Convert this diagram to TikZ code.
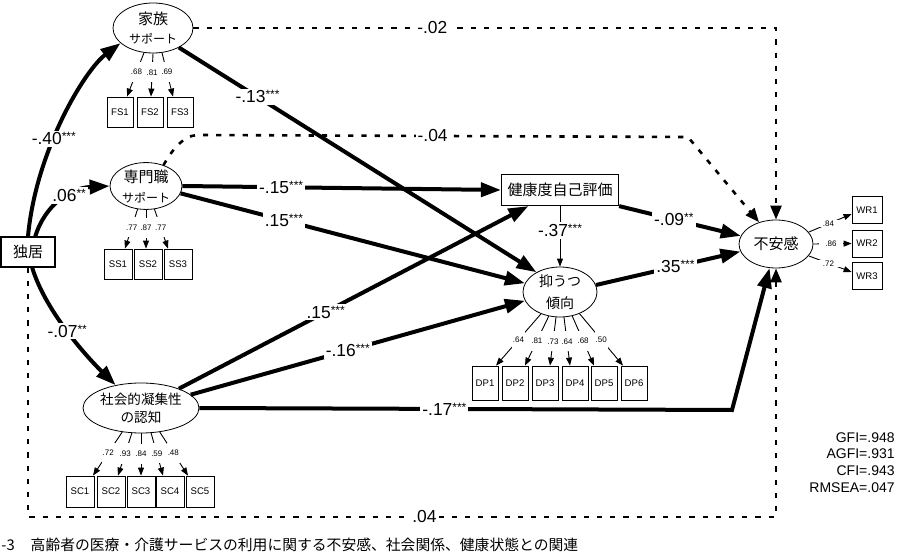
\documentclass[tikz,border=0pt]{standalone}
\usepackage{fontspec}
\setmainfont{Liberation Sans}
\newfontfamily\jp{Noto Sans CJK JP}
\usepackage{tikz}
\usetikzlibrary{arrows.meta,calc,shapes.geometric}
\newcommand{\fsz}[1]{\fontsize{#1}{#1}\selectfont}
\newcommand{\sig}[1]{\raisebox{2pt}{\fsz{6}#1}}

\begin{document}
\begin{tikzpicture}[x=0.5pt,y=-0.5pt,
  lat/.style={draw,ellipse,line width=0.4pt,inner sep=0pt,align=center},
  obs/.style={draw,line width=0.6pt,inner sep=0pt,font=\jp\fsz{7.5}},
  ind/.style={draw,line width=0.4pt,inner sep=0pt,font=\fsz{4.8}},
  eff/.style={line width=2pt,-{Triangle[length=10pt,width=7pt]}},
  nse/.style={line width=1.3pt,dash pattern=on 2.6pt off 4pt,-{Triangle[length=7pt,width=5.5pt]}},
  thinarr/.style={line width=0.45pt,-{Triangle[length=4pt,width=3pt]}},
  coef/.style={fill=white,inner sep=1pt,font=\fsz{8.7}},
  ldg/.style={fill=white,inner xsep=0.4pt,inner ysep=3.6pt,font=\fsz{4}},
  ldgh/.style={fill=white,inner xsep=3pt,inner ysep=0.3pt,font=\fsz{4}}]
  \useasboundingbox (0,0) rectangle (904,555);
  \node[obs,minimum width=27pt,minimum height=15pt] (dk) at (28,252) {独居};
  \node[lat,minimum width=40pt,minimum height=25pt,font=\jp\fsz{7.5}] (fam) at (153,28) {家族\\[2pt]{\fsz{6}サポート}};
  \node[lat,minimum width=36pt,minimum height=23pt,font=\jp\fsz{7.5}] (pro) at (146,186) {専門職\\[2.5pt]{\fsz{6}サポート}};
  \node[lat,minimum width=58pt,minimum height=25pt,font=\jp\fsz{6.8}] (soc) at (141,408) {社会的凝集性\\[2.2pt]の認知};
  \node[obs,minimum width=58.5pt,minimum height=15.5pt] (hlt) at (560,190) {健康度自己評価};
  \node[lat,minimum width=37pt,minimum height=25pt,font=\jp\fsz{7}] (dep) at (560,292) {抑うつ\\[4pt]傾向};
  \node[lat,minimum width=37pt,minimum height=24pt,font=\jp\fsz{7.5}] (anx) at (776,244) {不安感};

  % indicators
  \foreach \n/\x in {FS1/120,FS2/150,FS3/180}
    \node[ind,minimum width=13pt,minimum height=15pt] (\n) at (\x,112) {\n};
  \foreach \n/\a/\t/\v in {FS1/250/127/.68,FS2/270/151/.81,FS3/290/173/.69}
    \draw[thinarr] (fam.\a) -- node[ldg,pos=.44] (v\n) {\v} (\n.north -| \t,0);
  \foreach \n/\x in {SS1/118,SS2/148,SS3/178}
    \node[ind,minimum width=14pt,minimum height=15pt] (\n) at (\x,264) {\n};
  \foreach \n/\a/\t/\v in {SS1/250/125/.77,SS2/270/146/.87,SS3/290/168/.77}
    \draw[thinarr] (pro.\a) -- node[ldg,pos=.46] (v\n) {\v} (\n.north -| \t,0);
  \foreach \n/\x in {SC1/80,SC2/111,SC3/141,SC4/170,SC5/200}
    \node[ind,minimum width=14pt,minimum height=15.5pt] (\n) at (\x,491.5) {\n};
  \foreach \n/\a/\t/\v in {SC1/232/93/.72,SC2/250/118/.93,SC3/270/141/.84,SC4/292/163/.59,SC5/308/188/.48}
    \draw[thinarr] (soc.\a) -- node[ldg,pos=.48] (v\n) {\v} (\n.north -| \t,0);
  \foreach \n/\x in {DP1/485,DP2/515,DP3/545,DP4/575,DP5/604,DP6/634}
    \node[ind,minimum width=13pt,minimum height=17pt] (\n) at (\x,383) {\n};
  \foreach \n/\a/\t/\v in {DP1/229/496/.64,DP2/245/525/.81,DP3/261/550/.73,DP4/279/570/.64,DP5/297/594/.68,DP6/312/623/.50}
    \draw[thinarr] (dep.\a) -- node[ldg,pos=.5] (v\n) {\v} (\n.north -| \t,0);
  \foreach \n/\y in {WR1/210,WR2/243.5,WR3/276}
    \node[ind,minimum width=15pt,minimum height=13.5pt] (\n) at (867,\y) {\n};
  \foreach \n/\a/\t/\v in {WR1/20/214/.84,WR2/0/243.5/.86,WR3/-20/272/.72}
    \draw[thinarr] (anx.\a) -- node[ldgh,pos=.46] (v\n) {\v} (\n.west |- 0,\t);

  % structural paths
  \draw[eff] (dk.north) .. controls (36,150) and (85,70) .. node[coef,pos=.4] (c1) {-.40\sig{***}} (fam.205);
  \draw[eff] (dk.65) .. controls (45,205) and (70,188) .. node[coef,pos=.6] (c2) {.06\sig{**}} (pro.west);
  \draw[eff] (dk.-75) .. controls (45,310) and (85,355) .. node[coef,pos=.5] (c3) {-.07\sig{**}} (soc.138);
  \draw[eff] (fam.-37) -- node[coef,pos=.22] (c4) {-.13\sig{***}} (dep.140);
  \draw[eff] (pro.east) -- node[coef,pos=.31] (c5) {-.15\sig{***}} (hlt.west);
  \draw[eff] (pro.-12) -- node[coef,pos=.3] (c6) {.15\sig{***}} (dep.166);
  \draw[eff] (soc.27) -- node[coef,pos=.42] (c7) {.15\sig{***}} (hlt.207);
  \draw[eff] (soc.15) -- node[coef,pos=.47] (c8) {-.16\sig{***}} (dep.194);
  \coordinate (k17) at (732,410);
  \draw[eff] (soc.east) -- node[coef,pos=.46] (c9) {-.17\sig{***}} (k17) -- (anx.255);
  \draw[thinarr] (hlt.south) -- node[coef,pos=.4] (c10) {-.37\sig{***}} (dep.north);
  \draw[eff] (hlt.south east) -- node[coef,pos=.45] (c11) {-.09\sig{**}} (anx.167);
  \draw[eff] (dep.11) -- node[coef,pos=.55] (c12) {.35\sig{***}} (anx.192);

  % non-significant paths
  \draw[nse] (fam.east) -| node[coef,pos=.205] (c13) {-.02} (anx.north);
  \coordinate (k04a) at (197,135);
  \coordinate (k04b) at (688,137);
  \draw[nse] (pro.50) .. controls (172,150) and (183,136) .. (k04a) -- node[coef,pos=.48] (c14) {-.04} (k04b) -- (anx.128);
  \coordinate (k04c) at (776,517);
  \draw[nse] (dk.south) -- (dk.south |- k04c) -- node[coef,pos=.53] (c15) {.04} (k04c) -- (anx.south);

  \node[anchor=north east,align=right,inner sep=0pt,font=\fontsize{7}{8.35}\selectfont] (fit) at (895,432) {GFI=.948\\AGFI=.931\\CFI=.943\\RMSEA=.047};
  \node[anchor=north west,inner sep=0pt,font=\jp\fsz{7.4}] (cap) at (1,538) {-3\hspace{8pt}高齢者の医療・介護サービスの利用に関する不安感、社会関係、健康状態との関連};
\end{tikzpicture}
\end{document}
